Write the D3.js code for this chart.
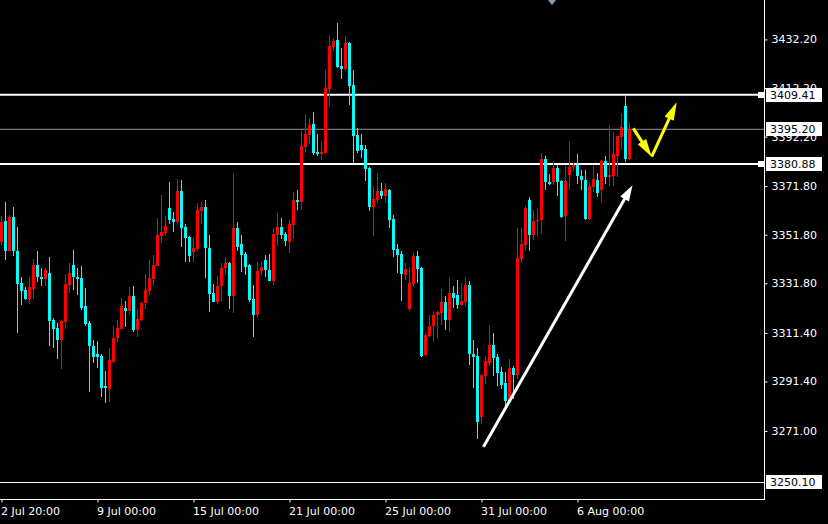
<!DOCTYPE html>
<html>
<head>
<meta charset="utf-8">
<script src="https://cdn.jsdelivr.net/npm/d3@7/dist/d3.min.js"></script>
<style>
  html, body { margin: 0; padding: 0; background: #000; overflow: hidden; }
  svg { display: block; }
  text { font-family: "DejaVu Sans", sans-serif; font-size: 11px; }
</style>
</head>
<body>
<svg id="chart" width="828" height="524"></svg>
<script>
// ---- data (XAUUSD H4) ----
const open = [3349.0,3357.6,3345.3,3359.2,3345.3,3332.0,3329.2,3325.5,3329.4,3339.5,
3334.3,3333.4,3336.2,3316.5,3313.6,3308.3,3315.7,3331.3,3339.5,3334.6,
3333.8,3322.3,3315.3,3306.2,3302.5,3301.7,3289.4,3288.5,3299.6,3309.1,
3313.2,3321.8,3320.6,3326.4,3312.4,3316.9,3323.9,3328.8,3333.4,3339.1,
3351.4,3352.7,3362.9,3358.4,3357.2,3369.9,3355.1,3351.0,3344.5,3346.1,
3361.7,3363.4,3346.5,3328.0,3324.3,3330.5,3337.9,3340.0,3326.4,3354.7,
3348.1,3344.0,3339.5,3325.5,3318.6,3337.0,3341.2,3337.4,3332.9,3351.8,
3355.1,3352.3,3349.0,3356.0,3366.2,3365.4,3388.0,3392.9,3397.5,3385.9,
3385.1,3385.5,3411.9,3429.1,3432.0,3421.3,3420.1,3430.8,3413.5,3392.9,
3388.8,3387.2,3379.4,3363.4,3366.2,3369.9,3367.9,3370.3,3358.4,3346.1,
3344.0,3335.4,3321.4,3331.7,3343.2,3337.9,3302.1,3310.3,3314.4,3318.6,
3319.4,3324.3,3316.9,3328.0,3326.8,3322.7,3324.3,3331.3,3302.9,3301.7,
3276.6,3293.5,3299.2,3306.6,3301.3,3295.1,3290.6,3283.2,3296.8,3293.9,
3342.0,3347.7,3366.2,3351.8,3357.3,3357.7,3383.1,3373.6,3373.6,3379.1,
3374.1,3359.4,3376.5,3379.5,3380.6,3376.1,3374.5,3358.3,3371.3,3374.5,
3370.1,3382.3,3375.4,3376.1,3384.3,3391.9,3404.6,3383.1];
const high = [3359.7,3365.4,3360.1,3363.4,3355.1,3334.6,3330.2,3334.2,3342.0,3344.9,
3337.9,3337.9,3342.8,3317.7,3315.4,3316.9,3335.8,3340.3,3345.7,3337.9,
3339.1,3329.7,3316.1,3308.3,3307.9,3302.9,3295.9,3305.0,3314.4,3316.9,
3325.9,3324.7,3330.1,3330.5,3321.4,3324.3,3335.8,3341.6,3343.6,3358.8,
3368.3,3359.6,3373.6,3361.3,3374.9,3374.2,3356.4,3351.4,3350.6,3365.0,
3365.4,3366.2,3351.8,3331.7,3335.0,3340.0,3342.8,3340.7,3377.0,3357.2,
3351.8,3344.5,3339.7,3331.3,3340.7,3340.7,3343.6,3344.0,3354.7,3360.9,
3358.8,3353.1,3358.0,3369.5,3370.3,3395.0,3401.6,3399.5,3402.4,3393.4,
3390.5,3419.7,3433.6,3432.8,3439.0,3428.7,3433.6,3431.2,3419.7,3395.8,
3393.4,3388.8,3379.8,3372.0,3377.3,3373.2,3373.2,3370.8,3360.1,3348.1,
3344.9,3340.3,3338.7,3344.4,3345.3,3338.7,3311.2,3318.9,3320.6,3320.2,
3329.6,3326.4,3333.8,3330.9,3333.3,3332.1,3333.8,3332.9,3308.3,3305.0,
3294.3,3301.7,3314.8,3311.2,3302.9,3297.2,3295.1,3300.5,3297.6,3354.7,
3354.7,3363.8,3367.5,3362.1,3362.5,3385.4,3384.3,3376.9,3382.0,3380.6,
3374.5,3379.9,3390.5,3381.3,3385.1,3378.3,3378.6,3373.6,3380.2,3377.2,
3382.5,3384.0,3397.0,3393.9,3392.5,3402.1,3409.4,3398.0];
const low = [3347.7,3341.2,3345.0,3343.2,3311.2,3322.7,3324.9,3323.1,3325.5,3332.5,
3330.9,3330.6,3306.2,3305.0,3300.5,3296.4,3312.8,3328.0,3329.2,3326.8,
3321.0,3314.4,3286.9,3298.8,3296.8,3284.8,3282.4,3282.8,3298.8,3307.5,
3312.8,3314.0,3318.6,3311.6,3309.9,3316.1,3321.4,3326.8,3330.5,3338.8,
3348.6,3351.4,3356.4,3353.1,3355.9,3346.9,3340.7,3340.7,3340.7,3345.3,
3356.4,3333.8,3319.8,3324.0,3323.1,3324.7,3335.4,3321.4,3319.4,3345.3,
3336.6,3335.4,3324.3,3309.5,3317.7,3335.4,3334.6,3332.7,3331.3,3347.3,
3350.2,3347.3,3344.4,3350.2,3362.1,3362.1,3385.5,3389.3,3384.7,3384.3,
3382.7,3385.1,3404.9,3427.5,3420.5,3416.0,3419.3,3405.3,3381.4,3385.5,
3383.5,3374.0,3361.7,3351.2,3365.0,3366.6,3364.9,3354.7,3342.8,3336.2,
3324.7,3333.3,3320.6,3330.1,3332.1,3301.5,3301.7,3309.9,3307.5,3308.7,
3314.8,3312.4,3311.6,3321.8,3321.4,3322.5,3322.5,3298.0,3288.6,3267.6,
3273.8,3290.2,3297.6,3293.5,3289.4,3288.1,3281.2,3282.8,3284.0,3292.3,
3340.3,3345.7,3345.0,3349.8,3351.2,3352.3,3370.1,3372.4,3372.4,3367.6,
3358.6,3349.4,3370.1,3377.9,3372.8,3370.3,3358.0,3358.0,3369.2,3367.2,
3365.1,3372.8,3372.0,3371.7,3375.4,3386.8,3381.6,3382.7];
const close = [3356.9,3345.3,3359.2,3344.9,3331.7,3328.8,3325.5,3330.1,3339.5,3334.3,
3333.4,3337.2,3316.1,3313.2,3308.3,3316.1,3331.7,3336.2,3334.2,3333.4,
3321.8,3314.9,3305.8,3301.3,3301.3,3288.9,3288.9,3300.1,3309.1,3313.6,
3322.3,3320.6,3326.4,3312.4,3317.3,3323.9,3329.2,3333.8,3339.5,3351.8,
3353.1,3355.5,3358.0,3357.2,3369.9,3354.7,3350.6,3343.2,3346.5,3362.1,
3363.4,3346.5,3327.6,3324.3,3330.9,3338.3,3340.0,3326.4,3354.7,3346.9,
3343.6,3338.7,3325.1,3318.6,3337.0,3338.7,3337.4,3332.9,3352.3,3355.1,
3351.8,3349.4,3356.4,3366.2,3365.4,3388.4,3393.4,3397.1,3385.5,3385.1,
3385.9,3412.3,3429.5,3431.6,3420.9,3420.1,3430.8,3413.1,3392.5,3386.4,
3386.8,3379.0,3363.4,3366.7,3369.9,3367.9,3370.8,3358.0,3345.7,3343.6,
3335.8,3337.5,3332.1,3343.2,3337.5,3301.7,3310.7,3314.4,3318.9,3319.8,
3324.3,3316.9,3328.0,3325.9,3322.7,3324.7,3331.3,3302.9,3301.3,3274.6,
3293.9,3299.7,3306.6,3300.9,3294.7,3289.8,3283.2,3296.8,3293.9,3342.4,
3348.1,3362.9,3351.8,3357.3,3358.0,3383.1,3373.4,3372.7,3379.1,3373.6,
3359.1,3373.8,3379.8,3380.6,3375.8,3374.2,3358.3,3371.7,3374.7,3369.0,
3382.3,3375.4,3376.5,3385.1,3392.3,3396.0,3383.1,3395.2];

const dateLabels = ["2 Jul 20:00","9 Jul 00:00","15 Jul 00:00","21 Jul 00:00","25 Jul 00:00","31 Jul 00:00","6 Aug 00:00"];
const dateBars = [0, 24, 48, 72, 96, 120, 144];
const priceTicks = [3432.20, 3412.20, 3392.20, 3371.80, 3351.80, 3331.80, 3311.40, 3291.40, 3271.00];

const levelPrices = [3409.41, 3380.88];     // thick white horizontal levels
const bidPrice = 3395.20;                    // grey bid line
const lowLevel = 3250.10;                    // thin white level at the bottom

// annotation arrows in (bar, price) space
const whiteArrow = [[120.5, 3264.5], [157.75, 3372.2]];
const yellowArrow = [[157.95, 3395.6], [162.55, 3383.9], [168.8, 3406.3]];

// ---- drawing ----
const W = 828, H = 524;
const plotRight = 764, plotBottom = 499;
const svg = d3.select("#chart");
svg.append("rect").attr("width", W).attr("height", H).attr("fill", "#000");

const x = d3.scaleLinear().domain([0, 157]).range([1.5, 1.5 + 4 * 157]);
const y = d3.scaleLinear().domain([3250.1, 3432.2]).range([481.8, 39.4]);

const bars = d3.range(open.length).map(i => ({i, o: open[i], h: high[i], l: low[i], c: close[i]}));
const col = d => d.c >= d.o ? "#ff0000" : "#00ffff";

const plot = svg.append("g");

// levels
plot.append("line").attr("x1", 0).attr("x2", plotRight)
  .attr("y1", y(bidPrice)).attr("y2", y(bidPrice))
  .attr("stroke", "#8a949e").attr("stroke-width", 1);
plot.selectAll("line.lvl").data(levelPrices).enter().append("line")
  .attr("class", "lvl").attr("x1", 0).attr("x2", plotRight)
  .attr("y1", d => y(d)).attr("y2", d => y(d))
  .attr("stroke", "#fff").attr("stroke-width", 2);
plot.append("line").attr("x1", 0).attr("x2", plotRight)
  .attr("y1", Math.round(y(lowLevel)) + 0.5).attr("y2", Math.round(y(lowLevel)) + 0.5)
  .attr("stroke", "#fff").attr("stroke-width", 1);

// candles
const cg = plot.append("g").attr("shape-rendering", "crispEdges");
cg.selectAll("rect.wick").data(bars).enter().append("rect")
  .attr("x", d => x(d.i) - 0.5).attr("width", 1)
  .attr("y", d => y(d.h)).attr("height", d => Math.max(1, y(d.l) - y(d.h)))
  .attr("fill", col);
cg.selectAll("rect.body").data(bars).enter().append("rect")
  .attr("x", d => x(d.i) - 1.5).attr("width", 3)
  .attr("y", d => y(Math.max(d.o, d.c)))
  .attr("height", d => Math.max(1, Math.abs(y(d.o) - y(d.c))))
  .attr("fill", col);

// arrows
function arrowHead(g, p0, p1, len, wid, color) {
  const dx = p1[0] - p0[0], dy = p1[1] - p0[1];
  const L = Math.hypot(dx, dy), ux = dx / L, uy = dy / L;
  const bx = p1[0] - ux * len, by = p1[1] - uy * len;
  const pts = [[p1[0], p1[1]], [bx - uy * wid / 2, by + ux * wid / 2], [bx + uy * wid / 2, by - ux * wid / 2]];
  g.append("polygon").attr("points", pts.map(p => p.join(",")).join(" ")).attr("fill", color);
  return [bx + ux * 2, by + uy * 2];
}
const ag = svg.append("g");
{
  const p0 = [x(whiteArrow[0][0]), y(whiteArrow[0][1])];
  const p1 = [x(whiteArrow[1][0]), y(whiteArrow[1][1])];
  const e = arrowHead(ag, p0, p1, 16, 10, "#fff");
  ag.append("line").attr("x1", p0[0]).attr("y1", p0[1]).attr("x2", e[0]).attr("y2", e[1])
    .attr("stroke", "#fff").attr("stroke-width", 3);
}
{
  const pts = yellowArrow.map(p => [x(p[0]), y(p[1])]);
  for (let k = 0; k < pts.length - 1; k++) {
    const e = arrowHead(ag, pts[k], pts[k + 1], 18, 10, "#ffff00");
    ag.append("line").attr("x1", pts[k][0]).attr("y1", pts[k][1]).attr("x2", e[0]).attr("y2", e[1])
      .attr("stroke", "#ffff00").attr("stroke-width", 3);
  }
}

// frame
const fg = svg.append("g").attr("shape-rendering", "crispEdges");
fg.append("line").attr("x1", plotRight + 0.5).attr("x2", plotRight + 0.5).attr("y1", 0).attr("y2", plotBottom + 0.5)
  .attr("stroke", "#fff");
fg.append("line").attr("x1", 0).attr("x2", plotRight + 1).attr("y1", plotBottom + 0.5).attr("y2", plotBottom + 0.5)
  .attr("stroke", "#fff");

// price axis
const yAxis = d3.axisRight(y).tickValues(priceTicks).tickSize(3).tickPadding(4)
  .tickFormat(d => d.toFixed(2));
const ya = svg.append("g").attr("transform", `translate(${plotRight + 0.5},0)`).call(yAxis);
ya.select(".domain").remove();
ya.selectAll(".tick line").attr("stroke", "#fff");
ya.selectAll(".tick text").attr("fill", "#fff").attr("x", 7)
  .style("font-family", "'DejaVu Sans', sans-serif").style("font-size", "11px");

// time axis
const tx = d3.scaleLinear().domain(x.domain()).range(x.range());
const xAxis = d3.axisBottom(tx).tickValues(dateBars).tickSize(3).tickPadding(5)
  .tickFormat((d, k) => dateLabels[k]);
const xa = svg.append("g").attr("transform", `translate(0,${plotBottom + 0.5})`).call(xAxis);
xa.select(".domain").remove();
xa.selectAll(".tick line").attr("stroke", "#fff");
xa.selectAll(".tick text").attr("fill", "#fff").attr("text-anchor", "start").attr("x", -1)
  .style("font-family", "'DejaVu Sans', sans-serif").style("font-size", "11px");

// price labels on axis (drawn over the tick labels, as in the terminal)
const boxes = [
  {p: levelPrices[0], marker: true},
  {p: bidPrice, marker: false},
  {p: levelPrices[1], marker: true},
  {p: lowLevel, marker: false}
];
const bg = svg.append("g").attr("shape-rendering", "crispEdges");
boxes.forEach(b => {
  const yy = Math.round(y(b.p));
  bg.append("rect").attr("x", 766).attr("y", yy - 7).attr("width", 56).attr("height", 14).attr("fill", "#fff");
  bg.append("text").attr("x", 770).attr("y", yy).attr("dy", "0.35em").attr("fill", "#000").text(b.p.toFixed(2));
  if (b.marker) bg.append("rect").attr("x", plotRight - 6).attr("y", yy - 3).attr("width", 6).attr("height", 6).attr("fill", "#fff");
});

// shift marker at top
svg.append("path")
  .attr("d", d3.line()([[548, 0], [556, 0], [552, 5]]) + "Z")
  .attr("fill", "#7f9cb8");
</script>
</body>
</html>
